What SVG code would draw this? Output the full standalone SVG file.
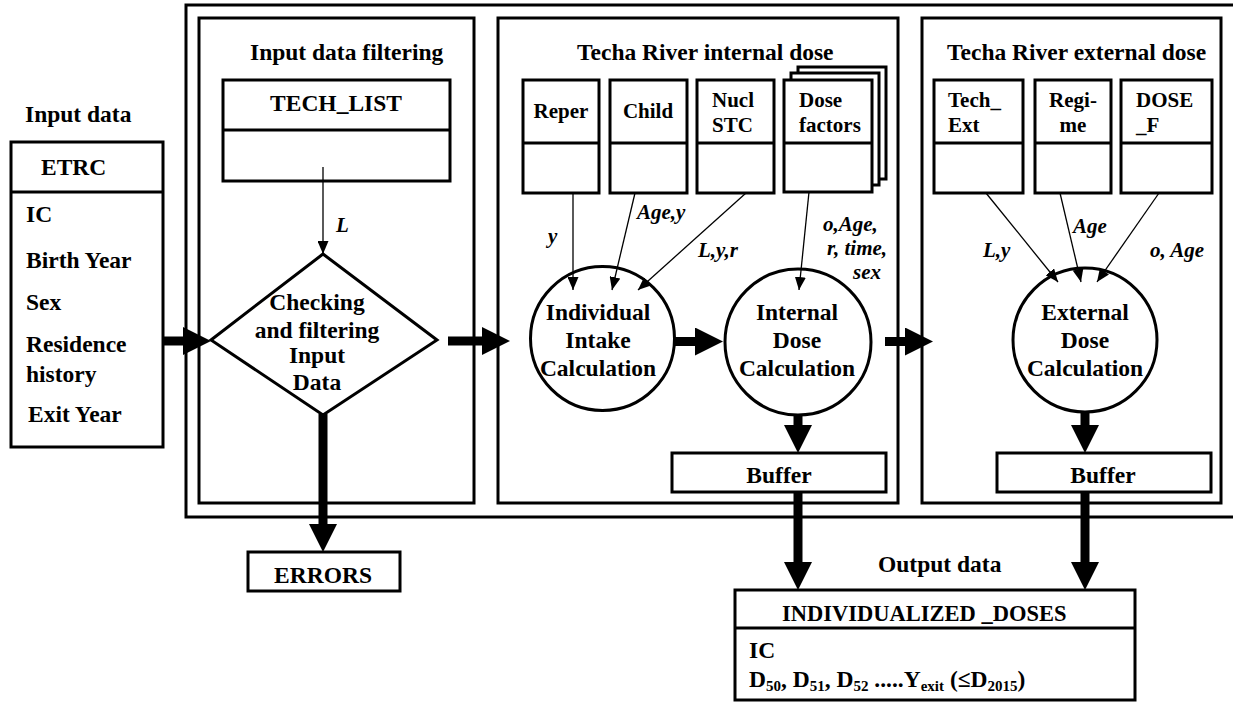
<svg xmlns="http://www.w3.org/2000/svg" width="1233" height="704" viewBox="0 0 1233 704">
<style>
.t{font-family:'Liberation Serif','Times New Roman',serif;font-weight:bold;font-size:23.5px;fill:#000}
.s{font-size:21px}
.i{font-style:italic;font-size:21px}
.m{text-anchor:middle}
.box{fill:#fff;stroke:#000;stroke-width:3}
.frame{fill:none;stroke:#000;stroke-width:3}
.thin{stroke:#000;stroke-width:1.3;fill:none}
.thick{stroke:#000;stroke-width:9;fill:none}
</style>
<defs>
<marker id="ah" markerUnits="userSpaceOnUse" viewBox="0 0 13 11" refX="13" refY="5.5" markerWidth="13" markerHeight="11" orient="auto"><path d="M0,0 L13,5.5 L0,11 z" fill="#000"/></marker>
<marker id="AH" markerUnits="userSpaceOnUse" viewBox="0 0 28 28" refX="0" refY="14" markerWidth="28" markerHeight="28" orient="auto"><path d="M0,0 L28,14 L0,28 z" fill="#000"/></marker>
</defs>
<rect width="1233" height="704" fill="#fff"/>

<g id="frame">
<rect class="frame" x="186" y="5" width="1060" height="512"/>
</g>
<g id="panel-filter">
<rect class="frame" x="199" y="18" width="275" height="485"/>
<text class="t" x="250" y="60">Input data filtering</text>
</g>
<g id="panel-internal">
<rect class="frame" x="498" y="18" width="400" height="485"/>
<text class="t" x="577" y="60">Techa River internal dose</text>
</g>
<g id="panel-external">
<rect class="frame" x="922" y="18" width="299" height="485"/>
<text class="t" x="947" y="60">Techa River external dose</text>
</g>

<g id="input-data">
<text class="t" x="25" y="122">Input data</text>
<rect class="box" x="11" y="142" width="152" height="305"/>
<line class="frame" x1="11" y1="192" x2="163" y2="192"/>
<text class="t" x="41" y="175">ETRC</text>
<text class="t" x="26" y="222">IC</text>
<text class="t" x="26" y="268">Birth Year</text>
<text class="t" x="26" y="310">Sex</text>
<text class="t" x="26" y="352">Residence</text>
<text class="t" x="26" y="382">history</text>
<text class="t" x="28" y="422">Exit Year</text>
</g>

<g id="tech-list">
<rect class="box" x="223" y="80" width="227" height="101"/>
<line class="frame" x1="223" y1="130" x2="450" y2="130"/>
<text class="t m" x="336" y="111">TECH_LIST</text>
</g>

<g id="check">
<polygon class="box" points="323,254 437,340 323,415 211,340"/>
<text class="t m" x="317" y="310">Checking</text>
<text class="t m" x="317" y="338">and filtering</text>
<text class="t m" x="317" y="363">Input</text>
<text class="t m" x="317" y="390">Data</text>
</g>

<g id="errors">
<rect class="box" x="248" y="552" width="152" height="39"/>
<text class="t m" x="323" y="583">ERRORS</text>
</g>

<g id="reper">
<rect class="box" x="523" y="80" width="76" height="113"/>
<line class="frame" x1="523" y1="143" x2="599" y2="143"/>
<text class="t s m" x="561" y="118">Reper</text>
</g>
<g id="child">
<rect class="box" x="610" y="80" width="77" height="113"/>
<line class="frame" x1="610" y1="143" x2="687" y2="143"/>
<text class="t s m" x="648" y="118">Child</text>
</g>
<g id="nucl">
<rect class="box" x="697" y="80" width="77" height="113"/>
<line class="frame" x1="697" y1="143" x2="774" y2="143"/>
<text class="t s" x="712" y="107">Nucl</text>
<text class="t s" x="712" y="132">STC</text>
</g>
<g id="dose-factors">
<rect class="box" x="798" y="67" width="88" height="112"/>
<rect class="box" x="791" y="73" width="88" height="112"/>
<rect class="box" x="784" y="80" width="88" height="112"/>
<line class="frame" x1="784" y1="143" x2="872" y2="143"/>
<text class="t s" x="799" y="107">Dose</text>
<text class="t s" x="799" y="132">factors</text>
</g>

<g id="intake">
<circle class="box" cx="602.5" cy="338.5" r="72"/>
<text class="t m" x="598" y="320">Individual</text>
<text class="t m" x="598" y="348">Intake</text>
<text class="t m" x="598" y="376">Calculation</text>
</g>
<g id="internal-dose">
<circle class="box" cx="798" cy="342" r="73"/>
<text class="t m" x="797" y="320">Internal</text>
<text class="t m" x="797" y="348">Dose</text>
<text class="t m" x="797" y="376">Calculation</text>
</g>
<g id="buffer-internal">
<rect class="box" x="672" y="453" width="214" height="39"/>
<text class="t m" x="779" y="483">Buffer</text>
</g>

<g id="tech-ext">
<rect class="box" x="934" y="80" width="89" height="113"/>
<line class="frame" x1="934" y1="143" x2="1023" y2="143"/>
<text class="t s" x="948" y="107">Tech_</text>
<text class="t s" x="948" y="132">Ext</text>
</g>
<g id="regime">
<rect class="box" x="1035" y="80" width="76" height="113"/>
<line class="frame" x1="1035" y1="143" x2="1111" y2="143"/>
<text class="t s m" x="1073" y="107">Regi-</text>
<text class="t s m" x="1073" y="132">me</text>
</g>
<g id="dose-f">
<rect class="box" x="1121" y="80" width="91" height="113"/>
<line class="frame" x1="1121" y1="143" x2="1212" y2="143"/>
<text class="t s" x="1136" y="107">DOSE</text>
<text class="t s" x="1136" y="132">_F</text>
</g>
<g id="external-dose">
<circle class="box" cx="1085" cy="340" r="72"/>
<text class="t m" x="1085" y="320">External</text>
<text class="t m" x="1085" y="348">Dose</text>
<text class="t m" x="1085" y="376">Calculation</text>
</g>
<g id="buffer-external">
<rect class="box" x="997" y="453" width="214" height="39"/>
<text class="t m" x="1103" y="483">Buffer</text>
</g>

<g id="output">
<text class="t" x="878" y="572">Output data</text>
<rect class="box" x="735" y="590" width="400" height="110"/>
<line class="frame" x1="735" y1="628" x2="1135" y2="628"/>
<text class="t" x="782" y="621" style="font-size:22.5px">INDIVIDUALIZED _DOSES</text>
<text class="t" x="749" y="658">IC</text>
<text class="t" x="749" y="687">D<tspan font-size="15" dy="4">50</tspan><tspan dy="-4">, D</tspan><tspan font-size="15" dy="4">51</tspan><tspan dy="-4">, D</tspan><tspan font-size="15" dy="4">52</tspan><tspan dy="-4"> .....Y</tspan><tspan font-size="15" dy="4">exit</tspan><tspan dy="-4"> (≤D</tspan><tspan font-size="15" dy="4">2015</tspan><tspan dy="-4">)</tspan></text>
</g>

<g id="connectors">
<line class="thin" x1="323" y1="167" x2="323" y2="254" marker-end="url(#ah)"/>
<text class="t i" x="336" y="232">L</text>
<line class="thin" x1="573" y1="193" x2="573" y2="290" marker-end="url(#ah)"/>
<text class="t i" x="548" y="243">y</text>
<line class="thin" x1="635" y1="193" x2="612" y2="290" marker-end="url(#ah)"/>
<text class="t i" x="637" y="219">Age,y</text>
<line class="thin" x1="746" y1="193" x2="638" y2="290" marker-end="url(#ah)"/>
<text class="t i" x="698" y="257">L,y,r</text>
<line class="thin" x1="809" y1="192" x2="799" y2="290" marker-end="url(#ah)"/>
<text class="t i" x="823" y="231">o,Age,</text>
<text class="t i" x="827" y="255">r, time,</text>
<text class="t i" x="853" y="279">sex</text>
<line class="thin" x1="986" y1="193" x2="1058" y2="282" marker-end="url(#ah)"/>
<text class="t i" x="983" y="257">L,y</text>
<line class="thin" x1="1060" y1="193" x2="1081" y2="282" marker-end="url(#ah)"/>
<text class="t i" x="1073" y="233">Age</text>
<line class="thin" x1="1159" y1="193" x2="1097" y2="282" marker-end="url(#ah)"/>
<text class="t i" x="1150" y="257">o, Age</text>

<line class="thick" x1="163" y1="341" x2="183" y2="341" marker-end="url(#AH)"/>
<line class="thick" x1="448" y1="341" x2="482" y2="341" marker-end="url(#AH)"/>
<line class="thick" x1="675" y1="341.5" x2="695" y2="341.5" marker-end="url(#AH)"/>
<line class="thick" x1="885" y1="341.5" x2="905" y2="341.5" marker-end="url(#AH)"/>
<line class="thick" x1="323" y1="414" x2="323" y2="524" marker-end="url(#AH)"/>
<line class="thick" x1="798" y1="414" x2="798" y2="425" marker-end="url(#AH)"/>
<line class="thick" x1="798" y1="492" x2="798" y2="562" marker-end="url(#AH)"/>
<line class="thick" x1="1085" y1="411" x2="1085" y2="425" marker-end="url(#AH)"/>
<line class="thick" x1="1085" y1="492" x2="1085" y2="562" marker-end="url(#AH)"/>
</g>
</svg>
